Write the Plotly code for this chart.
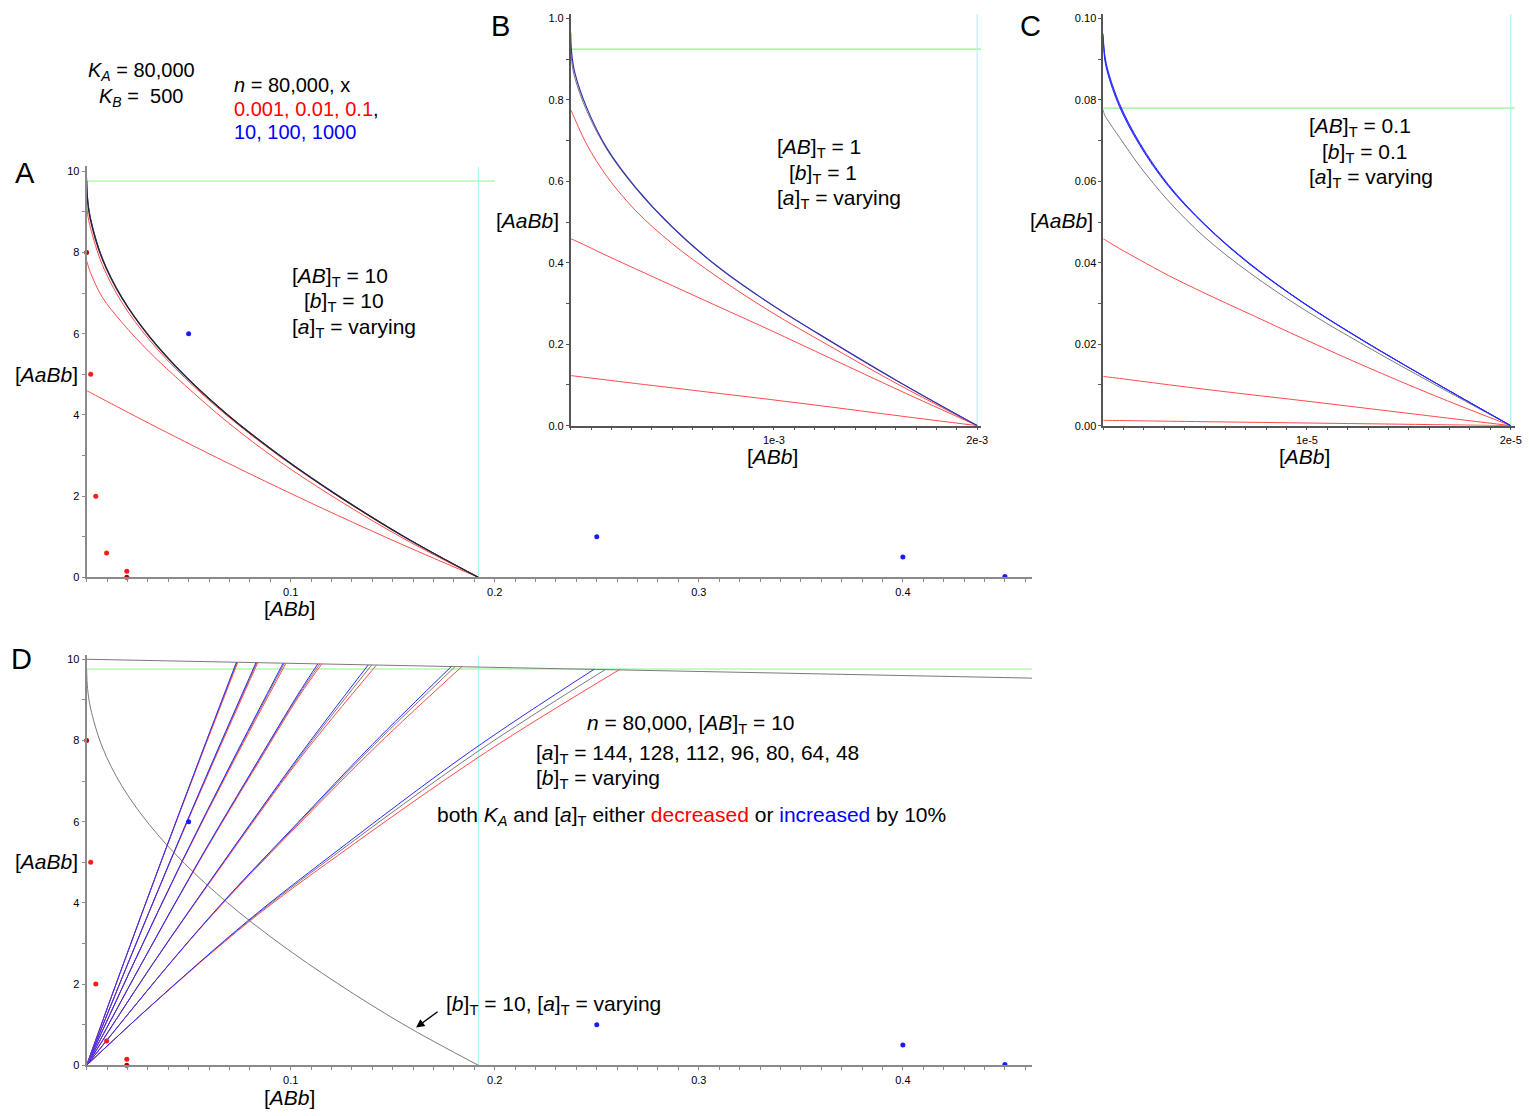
import plotly.graph_objects as go

W, H = 1529, 1116
FONT = "Liberation Sans, Arial, sans-serif"


def px(x):
    return x / W


def py(y):
    return 1 - y / H


# ---------------- DATA ----------------
# Panel A  ([AB]T = 10, [b]T = 10, [a]T varying)
A_X = [0, 0.00048, 0.00192, 0.00768, 0.01728, 0.03072, 0.048, 0.06912,
       0.09408, 0.12288, 0.15552, 0.192]
A_BLUE = [9.86, 9.35, 8.85, 7.87, 6.9, 5.94, 4.98, 4.01, 3.03, 2.03, 1.01, 0]
A_BLACK = [9.76, 9.28, 8.8, 7.84, 6.88, 5.93, 4.97, 4.0, 3.02, 2.02, 1.0, 0]
A_RED1 = [9.25, 8.95, 8.6, 7.7, 6.77, 5.85, 4.92, 3.97, 3.0, 2.01, 1.0, 0]
A_RED2 = [7.8, 7.72, 7.5, 6.9, 6.28, 5.55, 4.74, 3.82, 2.87, 1.92, 0.95, 0]
A_RED3 = [4.6, 4.587, 4.549, 4.395, 4.141, 3.79, 3.347, 2.817, 2.208, 1.529,
          0.789, 0]
A_GREEN_Y = 9.76
A_GREEN_XEND = 0.2
A_CYAN_X = 0.192

# markers shared by panels A and D
RED_DOT_X = [0.002, 0.0045, 0.0098, 0.0197]
RED_DOT_Y = [5.0, 2.0, 0.6, 0.15]
DARK_DOT_X = [0.0, 0.0197]
DARK_DOT_Y = [8.0, 0.0]
BLUE_DOT_X = [0.05, 0.25, 0.4, 0.45]
BLUE_DOT_Y = [6.0, 1.0, 0.5, 0.02]

# Panel B  ([AB]T = 1, [b]T = 1)
B_X = [0, 5e-6, 2e-5, 8e-5, 1.8e-4, 3.2e-4, 5e-4, 7.2e-4, 9.8e-4, 1.28e-3,
       1.62e-3, 2.0e-3]
B_BLUE = [0.965, 0.915, 0.868, 0.78, 0.68, 0.585, 0.488, 0.392, 0.3, 0.207, 0.106, 0]
B_GREY = [0.925, 0.895, 0.855, 0.772, 0.677, 0.583, 0.487, 0.391, 0.3, 0.207, 0.106, 0]
B_RED1 = [0.776, 0.771, 0.754, 0.69, 0.611, 0.528, 0.447, 0.366, 0.281, 0.194, 0.099, 0]
B_RED2 = [0.459, 0.458, 0.455, 0.441, 0.417, 0.385, 0.344, 0.294, 0.235, 0.165, 0.086, 0]
B_RED3 = [0.123, 0.1227, 0.1218, 0.1181, 0.112, 0.1035, 0.0929, 0.0798, 0.0643,
          0.0457, 0.0238, 0]
B_GREEN_Y = 0.925
B_GREEN_XEND = 2.02e-3
B_CYAN_X = 2.0e-3

# Panel C  ([AB]T = 0.1, [b]T = 0.1)
C_X = [0, 5e-8, 2e-7, 8e-7, 1.8e-6, 3.2e-6, 5e-6, 7.2e-6, 9.8e-6, 1.28e-5,
       1.62e-5, 2.0e-5]
C_BLUE1 = [0.0963, 0.0921, 0.0879, 0.0791, 0.0694, 0.0592, 0.0494, 0.0398, 0.0303,
           0.0208, 0.0108, 0]
C_BLUE2 = [0.0957, 0.0915, 0.0874, 0.0787, 0.0691, 0.059, 0.0493, 0.0397, 0.0302,
           0.0208, 0.0108, 0]
C_BLUE3 = [0.0951, 0.0909, 0.0869, 0.0783, 0.0688, 0.0588, 0.0492, 0.0396, 0.0302,
           0.0207, 0.0108, 0]
C_GREY = [0.0776, 0.0765, 0.0752, 0.0708, 0.0637, 0.0552, 0.0462, 0.0375, 0.0287,
          0.0198, 0.0103, 0]
C_RED1 = [0.0459, 0.04575, 0.0453, 0.0435, 0.0407, 0.0369, 0.0325, 0.0274, 0.0214,
          0.0147, 0.0075, 0]
C_RED2 = [0.0121, 0.01207, 0.01198, 0.0116, 0.01095, 0.01005, 0.00893, 0.00763,
          0.00613, 0.00433, 0.00228, 0]
C_RED3 = [0.0013, 0.0013, 0.00129, 0.00125, 0.00118, 0.00109, 0.00097, 0.00083,
          0.00066, 0.00047, 0.00025, 0]
C_GREEN_Y = 0.078
C_GREEN_XEND = 2.02e-5
C_CYAN_X = 2.0e-5

# Panel D  ([AB]T = 10, [a]T = 144 ... 48, [b]T varying)
D_TOP_X = [0, 0.4634]
D_TOP_Y = [10.0, 9.535]
D_GREEN_Y = 9.76
D_GREEN_XEND = 0.4634
D_CYAN_X = 0.192

D_A_TOTAL = [144, 128, 112, 96, 80, 64, 48]
D_Y = [
    [0, 2.5, 5.04, 7.5, 9.926],
    [0, 2.5, 5.04, 7.5, 9.917],
    [0, 2.5, 5.04, 7.5, 9.903],
    [0, 2.5, 5.04, 7.5, 9.12, 9.886],
    [0, 2.5, 5.04, 7.56, 9.86],
    [0, 2.5, 4.10, 5.97, 7.9, 9.82],
    [0, 1.5, 3.57, 5.16, 7.73, 9.75],
]
D_X_GREY = [
    [0, 0.01804, 0.0367, 0.05515, 0.0737],
    [0, 0.0202, 0.0411, 0.0621, 0.0834],
    [0, 0.02294, 0.0470, 0.0718, 0.0969],
    [0, 0.0269, 0.0552, 0.0843, 0.1039, 0.1143],
    [0, 0.03247, 0.0677, 0.1039, 0.1397],
    [0, 0.04065, 0.0685, 0.1039, 0.1411, 0.1806],
    [0, 0.03226, 0.0798, 0.121, 0.1917, 0.2543],
]
D_X_BLUE = [
    [0, 0.01803, 0.03665, 0.0550, 0.0734],
    [0, 0.02019, 0.04103, 0.0619, 0.0830],
    [0, 0.02292, 0.04693, 0.0715, 0.0963],
    [0, 0.02688, 0.0551, 0.0840, 0.1034, 0.1133],
    [0, 0.03243, 0.0675, 0.1033, 0.1380],
    [0, 0.0406, 0.0683, 0.1034, 0.1400, 0.1787],
    [0, 0.0322, 0.0793, 0.1196, 0.1881, 0.2486],
]
D_X_RED = [
    [0, 0.01805, 0.03675, 0.0553, 0.0741],
    [0, 0.02021, 0.04118, 0.0624, 0.0839],
    [0, 0.02296, 0.04712, 0.0722, 0.0977],
    [0, 0.02692, 0.0554, 0.0847, 0.1045, 0.1153],
    [0, 0.03251, 0.0680, 0.1046, 0.1421],
    [0, 0.0407, 0.0688, 0.1046, 0.1428, 0.1839],
    [0, 0.0323, 0.0804, 0.1229, 0.1963, 0.2613],
]

# tick labels
AD_XTICKS = [0.1, 0.2, 0.3, 0.4]
AD_XTICK_TEXT = ["0.1", "0.2", "0.3", "0.4"]
AD_YTICKS = [0, 2, 4, 6, 8, 10]
AD_YTICK_TEXT = ["0", "2", "4", "6", "8", "10"]
B_XTICKS = [1e-3, 2e-3]
B_XTICK_TEXT = ["1e-3", "2e-3"]
B_YTICKS = [0, 0.2, 0.4, 0.6, 0.8, 1.0]
B_YTICK_TEXT = ["0.0", "0.2", "0.4", "0.6", "0.8", "1.0"]
C_XTICKS = [1e-5, 2e-5]
C_XTICK_TEXT = ["1e-5", "2e-5"]
C_YTICKS = [0, 0.02, 0.04, 0.06, 0.08, 0.10]
C_YTICK_TEXT = ["0.00", "0.02", "0.04", "0.06", "0.08", "0.10"]

# ---------------- STYLE ----------------
RED = "#ff4a4a"
BLUE = "#2a2aff"
BLACK = "#262626"
GREY = "#7a7a7a"
GREEN = "#8cf58c"
CYAN = "#a8f6f6"

fig = go.Figure()


def add_line(x, y, color, width, xa, ya, spline=True):
    fig.add_trace(go.Scatter(
        x=x, y=y, mode="lines",
        line=dict(color=color, width=width,
                  shape="spline" if spline else "linear", smoothing=1.0),
        xaxis=xa, yaxis=ya, hoverinfo="skip", showlegend=False))


def add_dots(xa, ya):
    for xs, ys, col in [(RED_DOT_X, RED_DOT_Y, "#ff1a1a"),
                        (DARK_DOT_X, DARK_DOT_Y, "#b00000"),
                        (BLUE_DOT_X, BLUE_DOT_Y, "#1a1aff")]:
        fig.add_trace(go.Scatter(
            x=xs, y=ys, mode="markers",
            marker=dict(color=col, size=5, line=dict(width=0)),
            cliponaxis=False, xaxis=xa, yaxis=ya,
            hoverinfo="skip", showlegend=False))


# Panel A
add_line([0, A_GREEN_XEND], [A_GREEN_Y, A_GREEN_Y], GREEN, 1.2, "x", "y", False)
add_line([A_CYAN_X, A_CYAN_X], [0, 10.12], CYAN, 1.2, "x", "y", False)
add_line(A_X, A_RED3, RED, 1, "x", "y")
add_line(A_X, A_RED2, RED, 1, "x", "y")
add_line(A_X, A_RED1, RED, 1, "x", "y")
add_line(A_X, A_BLUE, BLUE, 1, "x", "y")
add_line(A_X, A_BLACK, BLACK, 1.4, "x", "y")
add_dots("x", "y")

# Panel B
add_line([0, B_GREEN_XEND], [B_GREEN_Y, B_GREEN_Y], GREEN, 1.2, "x2", "y2", False)
add_line([B_CYAN_X, B_CYAN_X], [0, 1.012], CYAN, 1.2, "x2", "y2", False)
add_line(B_X, B_RED3, RED, 1, "x2", "y2")
add_line(B_X, B_RED2, RED, 1, "x2", "y2")
add_line(B_X, B_RED1, RED, 1, "x2", "y2")
add_line(B_X, B_GREY, GREY, 1, "x2", "y2")
add_line(B_X, B_BLUE, "#3434b0", 1.2, "x2", "y2")

# Panel C
add_line([0, C_GREEN_XEND], [C_GREEN_Y, C_GREEN_Y], GREEN, 1.2, "x3", "y3", False)
add_line([C_CYAN_X, C_CYAN_X], [0, 0.1012], CYAN, 1.2, "x3", "y3", False)
add_line(C_X, C_RED3, RED, 1, "x3", "y3")
add_line(C_X, C_RED2, RED, 1, "x3", "y3")
add_line(C_X, C_RED1, RED, 1, "x3", "y3")
add_line(C_X, C_GREY, GREY, 1, "x3", "y3")
add_line(C_X, C_BLUE3, BLUE, 1, "x3", "y3")
add_line(C_X, C_BLUE2, BLUE, 1, "x3", "y3")
add_line(C_X, C_BLUE1, BLUE, 1, "x3", "y3")

# Panel D
add_line([0, D_GREEN_XEND], [D_GREEN_Y, D_GREEN_Y], GREEN, 1.2, "x4", "y4", False)
add_line([D_CYAN_X, D_CYAN_X], [0, 10.1], CYAN, 1.2, "x4", "y4", False)
add_line(D_TOP_X, D_TOP_Y, GREY, 1, "x4", "y4", False)
add_line(A_X, A_BLACK, GREY, 1, "x4", "y4")
for i in range(len(D_A_TOTAL)):
    add_line(D_X_GREY[i], D_Y[i], GREY, 1, "x4", "y4")
    add_line(D_X_RED[i], D_Y[i], RED, 1, "x4", "y4")
    add_line(D_X_BLUE[i], D_Y[i], BLUE, 1, "x4", "y4")
add_dots("x4", "y4")


# ---------------- AXES ----------------
def axis(domain, rng, anchor, tvals, ttext, mdt, lc, lw):
    return dict(
        domain=domain, range=rng, anchor=anchor, showline=True,
        linecolor=lc, linewidth=lw, ticks="outside", ticklen=3, tickwidth=1,
        tickcolor=lc, tickmode="array", tickvals=tvals, ticktext=ttext,
        tickfont=dict(family=FONT, size=11, color="black"),
        showgrid=False, zeroline=False, fixedrange=True,
        minor=dict(ticks="outside", tickmode="linear", tick0=0, dtick=mdt,
                   ticklen=3, tickcolor=lc, showgrid=False))


AX_DOM = [px(87), px(1037)]
fig.update_layout(
    width=W, height=H,
    margin=dict(l=0, r=0, t=0, b=0),
    paper_bgcolor="white", plot_bgcolor="rgba(0,0,0,0)",
    showlegend=False,
    font=dict(family=FONT, color="black"),
    xaxis=axis(AX_DOM, [0, 0.4634], "y", AD_XTICKS, AD_XTICK_TEXT, 0.01, "#8a8a8a", 2),
    yaxis=axis([py(579.5), py(579.5 - 10.12 * 40.9)], [0, 10.12], "x",
               AD_YTICKS, AD_YTICK_TEXT, 1, "#8a8a8a", 2),
    xaxis2=axis([px(573.3), px(573.3 + 2.02 * 204.2)], [0, 2.02e-3], "y2",
                B_XTICKS, B_XTICK_TEXT, 1e-4, "#555555", 1.5),
    yaxis2=axis([py(426.7), py(426.7 - 1.012 * 410)], [0, 1.012], "x2",
                B_YTICKS, B_YTICK_TEXT, 0.1, "#555555", 1.5),
    xaxis3=axis([px(1108.3), px(1108.3 + 2.02 * 204.7)], [0, 2.02e-5], "y3",
                C_XTICKS, C_XTICK_TEXT, 1e-6, "#555555", 1.5),
    yaxis3=axis([py(426.7), py(426.7 - 1.012 * 410)], [0, 0.1012], "x3",
                C_YTICKS, C_YTICK_TEXT, 0.01, "#555555", 1.5),
    xaxis4=axis(AX_DOM, [0, 0.4634], "y4", AD_XTICKS, AD_XTICK_TEXT, 0.01, "#8a8a8a", 2),
    yaxis4=axis([py(1071), py(1071 - 10.1 * 40.9)], [0, 10.1], "x4",
                AD_YTICKS, AD_YTICK_TEXT, 1, "#8a8a8a", 2),
)

# ---------------- TEXT ----------------
ann = []


def text(x, y, s, size=21, anchor="left", color="black"):
    ann.append(dict(x=px(x), y=py(y), xref="paper", yref="paper", text=s,
                    showarrow=False, xanchor=anchor, yanchor="middle",
                    font=dict(family=FONT, size=size, color=color)))


# panel letters
text(25, 172, "A", 29, "center")
text(503, 24, "B", 29, "center")
text(1035, 24, "C", 29, "center")
text(22, 662, "D", 29, "center")

# constants
text(142, 70, "<i>K</i><sub><i>A</i></sub> = 80,000", 20, "center")
text(142, 96, "<i>K</i><sub><i>B</i></sub> =  500", 20, "center")
text(233, 84, "<i>n</i> = 80,000, x", 20)
text(233, 108, "<span style='color:#ff0000'>0.001, 0.01, 0.1</span>,", 20)
text(233, 131, "<span style='color:#0000ff'>10, 100, 1000</span>", 20)

# axis titles
for (x, y) in [(47, 375), (530, 220), (1066, 220), (47, 866)]:
    text(x, y, "[<i>AaBb</i>]", 21, "center")
for (x, y) in [(291, 611), (776, 458), (1311, 458), (291, 1103)]:
    text(x, y, "[<i>ABb</i>]", 21, "center")

# panel A text
text(291, 277, "[<i>AB</i>]<sub>T</sub> = 10")
text(303, 302, "[<i>b</i>]<sub>T</sub> = 10")
text(291, 328, "[<i>a</i>]<sub>T</sub> = varying")
# panel B text
text(779, 147, "[<i>AB</i>]<sub>T</sub> = 1")
text(791, 173, "[<i>b</i>]<sub>T</sub> = 1")
text(779, 198, "[<i>a</i>]<sub>T</sub> = varying")
# panel C text
text(1313, 126, "[<i>AB</i>]<sub>T</sub> = 0.1")
text(1326, 152, "[<i>b</i>]<sub>T</sub> = 0.1")
text(1313, 177, "[<i>a</i>]<sub>T</sub> = varying")
# panel D text
text(588, 727, "<i>n</i> = 80,000, [<i>AB</i>]<sub>T</sub> = 10")
text(536, 757, "[<i>a</i>]<sub>T</sub> = 144, 128, 112, 96, 80, 64, 48")
text(536, 783, "[<i>b</i>]<sub>T</sub> = varying")
text(437, 820, "both <i>K</i><sub><i>A</i></sub> and [<i>a</i>]<sub>T</sub> either "
     "<span style='color:#ff0000'>decreased</span> or "
     "<span style='color:#0000ff'>increased</span> by 10%")
text(446, 1010, "[<i>b</i>]<sub>T</sub> = 10, [<i>a</i>]<sub>T</sub> = varying")

# arrow (tail offset given in pixels from the head)
ann.append(dict(x=px(418), y=py(1033), xref="paper", yref="paper",
                ax=23, ay=-17, axref="pixel", ayref="pixel",
                text="", showarrow=True, arrowhead=2, arrowsize=1.2,
                arrowwidth=1.4, arrowcolor="black"))

fig.update_layout(annotations=ann)
fig.write_html("out.html")
